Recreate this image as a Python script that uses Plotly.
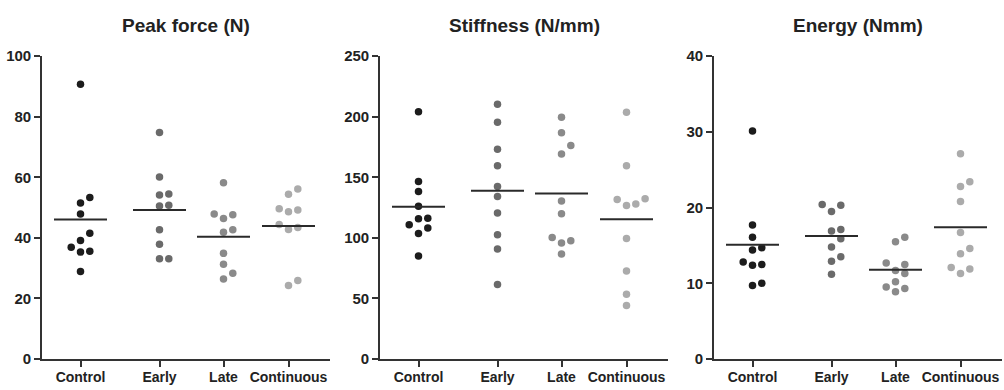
import plotly.graph_objects as go

# ---------------- data ----------------
groups = ["Control", "Early", "Late", "Continuous"]

peak_control = [90.7, 53.3, 51.5, 47.9, 41.5, 39.1, 36.9, 35.6, 35.3, 28.9]
peak_early = [74.8, 60.1, 54.2, 54.5, 50.8, 50.5, 42.7, 37.9, 33.1, 33.1]
peak_late = [58.2, 47.9, 47.6, 46.4, 42.7, 41.9, 34.9, 31.3, 28.3, 26.4]
peak_cont = [56.1, 54.4, 49.6, 48.6, 49.2, 44.4, 43.4, 42.8, 25.9, 24.3]
peak_means = [46.1, 49.2, 40.4, 43.9]

stiff_control = [204.2, 146.6, 138.2, 126.1, 116.3, 115.8, 110.8, 108.2, 103.7, 85.0]
stiff_early = [210.3, 195.5, 173.2, 159.5, 142.4, 134.2, 120.5, 102.6, 90.8, 61.6]
stiff_late = [199.5, 186.8, 176.3, 169.2, 130.5, 120.0, 100.3, 97.6, 95.8, 86.6]
stiff_cont = [203.7, 159.5, 131.6, 126.8, 127.9, 132.4, 99.5, 72.6, 53.4, 44.2]
stiff_means = [125.8, 138.9, 136.6, 115.3]

energy_control = [30.1, 17.7, 16.1, 14.7, 14.4, 12.8, 12.5, 12.4, 10.0, 9.7]
energy_early = [20.4, 20.3, 19.5, 17.1, 16.9, 15.9, 14.8, 13.5, 12.9, 11.2]
energy_late = [16.1, 15.5, 12.7, 12.5, 11.3, 11.7, 10.2, 9.5, 9.3, 8.9]
energy_cont = [27.1, 22.8, 23.4, 20.8, 16.7, 14.6, 13.9, 12.1, 11.9, 11.3]
energy_means = [15.1, 16.25, 11.8, 17.4]

titles = ["Peak force (N)", "Stiffness (N/mm)", "Energy (Nmm)"]
y_max = [100, 250, 40]
y_ticks = [[0, 20, 40, 60, 80, 100], [0, 50, 100, 150, 200, 250], [0, 10, 20, 30, 40]]

panels = [
    ([peak_control, peak_early, peak_late, peak_cont], peak_means),
    ([stiff_control, stiff_early, stiff_late, stiff_cont], stiff_means),
    ([energy_control, energy_early, energy_late, energy_cont], energy_means),
]

# ---------------- layout constants ----------------
W, H = 1004, 390
PANEL_W = 288                      # x axis span in pixels (x units == pixels)
cat_pos = [38.5, 117.5, 181.5, 246.5]
x_left = [42, 380, 714]
y_bottom_px, y_top_px = 366, 49.3
plot_h = y_bottom_px - y_top_px
colors = ["#1c1c1c", "#6a6a6a", "#8a8a8a", "#ababab"]
axis_col = "#333333"
STEP = 9.3        # horizontal spacing of jittered points (px)
MIN_DY = 9.0      # vertical separation in px before points are pushed sideways
HALF_LINE = 26.5
FONT = "Liberation Sans, Arial, sans-serif"


def swarm(values, ymax):
    """Simple beeswarm: push overlapping points sideways."""
    order = sorted(range(len(values)), key=lambda i: values[i])
    placed = []
    offs = [0.0] * len(values)
    px_per_unit = plot_h / ymax
    for i in order:
        for k in [0, 1, -1, 2, -2, 3, -3]:
            ok = all(abs(values[i] - v) * px_per_unit >= MIN_DY
                     for (kk, v) in placed if kk == k)
            if ok:
                placed.append((k, values[i]))
                offs[i] = k * STEP
                break
    return offs


fig = go.Figure()

for p, (series, means) in enumerate(panels):
    xa = "x" if p == 0 else f"x{p + 1}"
    ya = "y" if p == 0 else f"y{p + 1}"
    for g, vals in enumerate(series):
        offs = swarm(vals, y_max[p])
        fig.add_trace(go.Scatter(
            x=[cat_pos[g] + o for o in offs], y=vals, mode="markers",
            marker=dict(color=colors[g], size=7.5, line=dict(width=0)),
            xaxis=xa, yaxis=ya, showlegend=False, hoverinfo="y"))
        fig.add_trace(go.Scatter(
            x=[cat_pos[g] - HALF_LINE, cat_pos[g] + HALF_LINE],
            y=[means[g], means[g]], mode="lines",
            line=dict(color="#2a2a2a", width=2),
            xaxis=xa, yaxis=ya, showlegend=False, hoverinfo="skip"))

    dom_x = [x_left[p] / W, (x_left[p] + PANEL_W) / W]
    dom_y = [(H - y_bottom_px) / H, (H - y_top_px) / H]
    axis_common = dict(showline=True, linecolor=axis_col, linewidth=1.6,
                       ticks="outside", ticklen=6, tickwidth=1.6, tickcolor=axis_col,
                       showgrid=False, zeroline=False)
    fig.update_layout(**{
        ("xaxis" if p == 0 else f"xaxis{p + 1}"): dict(
            domain=dom_x, range=[0, PANEL_W], tickmode="array",
            tickvals=cat_pos, ticktext=groups, anchor=ya, ticklabelstandoff=-2,
            tickfont=dict(family=FONT, size=14, color="#222", weight="bold"),
            **axis_common),
        ("yaxis" if p == 0 else f"yaxis{p + 1}"): dict(
            domain=dom_y, range=[0, y_max[p]], tickmode="array",
            tickvals=y_ticks[p], anchor=xa,
            tickfont=dict(family=FONT, size=15, color="#222", weight="bold"),
            **axis_common),
    })
    fig.add_annotation(
        text=titles[p], x=(x_left[p] + PANEL_W / 2) / W, y=(H - 17) / H,
        xref="paper", yref="paper", showarrow=False, xanchor="center", yanchor="middle",
        font=dict(family=FONT, size=19, color="#222", weight="bold"))

fig.update_layout(
    width=W, height=H, autosize=False, margin=dict(l=0, r=0, t=0, b=0),
    paper_bgcolor="white", plot_bgcolor="white", showlegend=False)

fig.write_html(
    "out.html",
    config={"displayModeBar": False, "responsive": False},
    post_script="document.body.style.margin='0';document.body.style.padding='0';"
                "document.body.style.overflow='hidden';"
                "document.documentElement.style.overflow='hidden';")
